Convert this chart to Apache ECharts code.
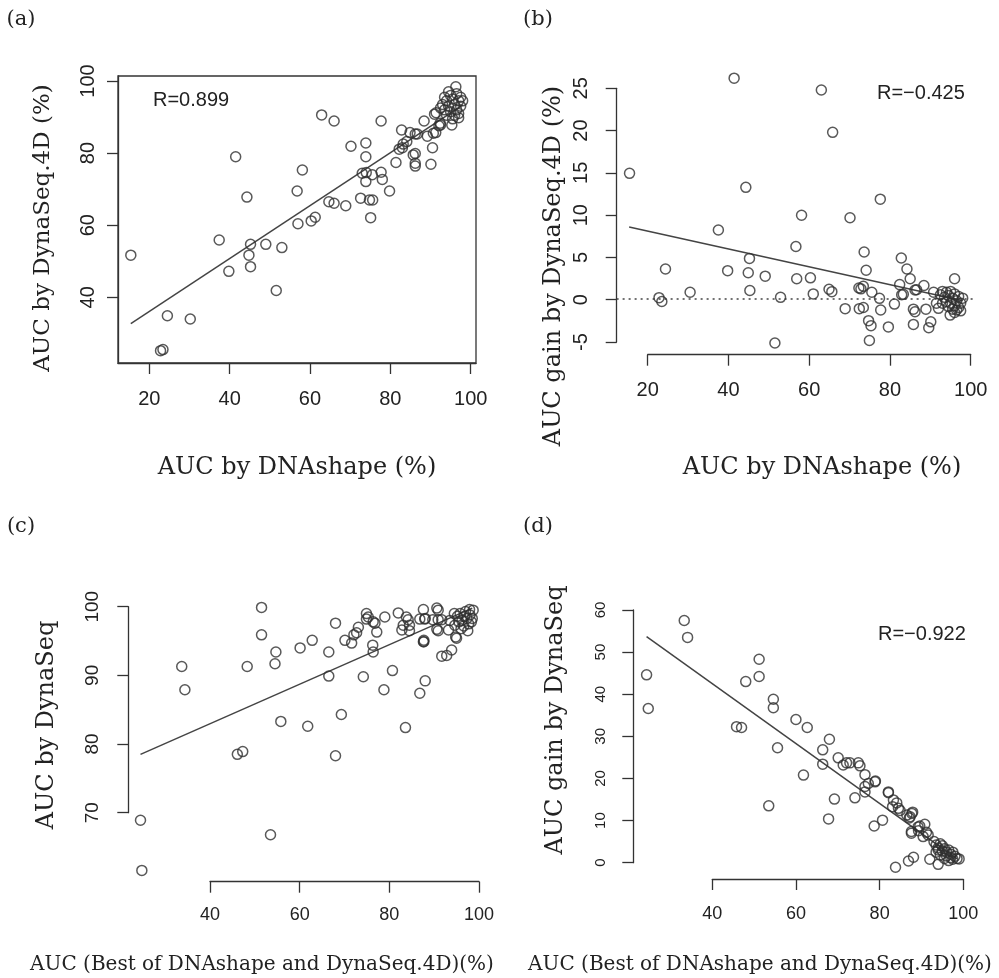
<!DOCTYPE html>
<html><head><meta charset="utf-8">
<script src="https://cdn.jsdelivr.net/npm/echarts@6/dist/echarts.min.js"></script>
<style>html,body{margin:0;padding:0;background:#fff}#c{width:999px;height:978px}</style>
</head><body><div id="c"></div>
<script>
// ---------- Panel (a): AUC by DNAshape vs AUC by DynaSeq.4D ----------
const aDNAshape = [15.4,22.8,23.4,24.5,30.2,37.4,39.8,41.5,44.3,45.2,44.8,45.2,49.0,53.0,51.6,56.8,58.1,57.0,60.3,61.3,62.9,66.0,64.7,66.0,68.9,70.2,72.6,73.9,73.9,73.0,74.0,75.5,73.9,74.8,75.6,75.1,77.7,77.7,78.0,79.8,81.4,82.8,83.0,83.2,84.1,82.2,84.9,86.2,86.7,86.2,85.7,86.2,86.2,88.4,89.2,90.1,90.5,91.0,91.3,92.1,92.5,90.7,91.4,92.4,95.3,96.3,
  93.0,93.5,94.0,94.5,95.0,95.5,96.0,96.5,97.0,97.5,96.0,97.0,94.0,95.0,96.5,97.5,98.0,93.5,92.5,95.5,97.0,94.5];
const aDynaSeq4D = [51.7,25.2,25.5,34.9,34.0,55.9,47.2,79.0,67.8,54.7,51.7,48.5,54.7,53.8,41.9,69.5,75.3,60.4,61.2,62.2,90.6,88.9,66.5,66.1,65.4,81.9,67.5,82.8,79.0,74.4,74.6,74.0,72.1,67.0,67.0,62.1,88.9,74.7,72.7,69.5,77.4,86.4,81.5,82.5,83.2,81.1,85.7,85.3,85.3,79.9,79.5,77.2,76.4,88.9,84.7,76.9,81.5,90.8,85.7,87.6,87.8,85.5,91.2,88.3,87.8,98.4,
  93.5,92.0,94.5,93.0,91.5,95.0,93.5,92.0,94.5,93.0,90.5,91.0,90.5,96.0,96.5,95.5,94.5,95.5,92.5,89.5,89.8,97.0];
const aFitX = [15.4, 98.0];
const aFitY = [32.7, 93.3];
const aXTicks = [20, 40, 60, 80, 100];
const aYTicks = [40, 60, 80, 100];

// ---------- Panel (b): AUC by DNAshape vs AUC gain by DynaSeq.4D ----------
const bDNAshape = [15.5,22.8,23.5,24.4,30.5,37.5,39.8,41.4,44.3,45.2,44.9,45.3,49.1,51.5,52.9,56.7,56.9,58.1,60.3,61.0,63.0,64.9,65.6,65.8,68.9,70.1,72.4,72.8,73.4,73.6,74.1,73.4,74.7,75.3,74.9,75.5,77.4,77.6,77.7,79.6,81.1,82.4,82.8,82.9,84.2,85.0,85.8,86.2,85.8,86.6,88.4,88.9,89.6,90.1,90.8,92.0,94.9,96.0,83.3,86.2,72.3,91.5,
  92.5,93.0,93.5,94.0,94.0,94.5,95.0,95.0,95.5,96.0,96.0,96.5,97.0,97.0,97.5,96.5,95.5,94.5,98.0,97.5,96.0,93.0];
const bGain4D = [14.85,0.16,-0.3,3.55,0.8,8.15,3.35,26.1,13.2,4.8,3.1,1.0,2.7,-5.2,0.2,6.2,2.4,9.9,2.5,0.6,24.7,1.15,0.87,19.7,-1.14,9.6,-1.14,1.2,1.5,5.55,3.4,-1.0,-2.56,-3.15,-4.9,0.8,0.08,11.8,-1.3,-3.3,-0.6,1.7,4.85,0.5,3.55,2.4,-1.2,-1.5,-3.0,1.1,1.6,-1.2,-3.4,-2.7,0.8,-1.1,-1.9,2.4,0.55,1.06,1.3,-0.5,
  0.5,0.9,0.2,-0.3,0.8,0.4,-0.5,0.9,0.1,-0.8,0.6,-0.2,-1.0,0.3,-0.5,-1.3,-1.2,-0.9,0.1,-1.4,-1.6,-0.5];
const bFitX = [15.4, 98.0];
const bFitY = [8.5, -0.2];
const bZeroX = [12.3, 101.3];
const bZeroY = [0, 0];

// ---------- Panel (c): Best of DNAshape/DynaSeq.4D vs AUC by DynaSeq ----------
const cBest = [24.5,24.8,33.7,34.4,46.1,47.3,48.3,51.5,51.5,54.7,54.5,53.5,55.8,60.1,62.8,61.8,66.5,66.5,68.0,68.0,69.3,70.1,71.6,72.1,72.7,73.1,74.2,74.9,75.3,74.9,76.3,76.4,76.4,77.2,78.8,79.0,80.7,82.0,82.8,83.8,84.2,84.5,83.6,86.8,87.7,87.7,88.0,87.6,88.0,90.6,91.7,93.9,94.8,90.9,93.2,76.8,83.1,84.5,86.8,87.9,89.7,90.9,91.7,90.6,93.5,94.6,98.7,95.0,92.8,87.6,90.9,
  95.8,96.2,96.6,97.0,97.3,97.7,98.0,98.3,96.0,97.5,95.5,96.8,98.5,97.9,95.2,94.5];
const cDynaSeq = [68.9,61.6,91.3,87.9,78.5,78.9,91.3,99.9,95.9,93.4,91.7,66.8,83.3,94.0,95.1,82.6,93.4,89.9,97.6,78.3,84.3,95.1,94.7,95.9,96.2,97.0,89.8,99.0,98.5,98.2,94.4,93.4,97.8,96.3,87.9,98.5,90.7,99.1,96.6,98.5,98.1,96.5,82.4,87.4,94.9,95.1,89.2,99.6,98.3,99.8,92.8,93.7,95.6,96.5,96.6,97.6,97.3,97.3,98.2,98.2,98.1,98.1,98.1,96.7,98.0,97.3,99.5,95.4,92.9,94.9,99.5,
  99.0,98.0,97.2,99.3,98.3,97.5,98.8,97.8,96.8,96.5,97.8,98.6,98.3,99.6,98.6,99.0];
const cFitX = [24.5, 98.5];
const cFitY = [78.5, 99.8];

// ---------- Panel (d): Best of DNAshape/DynaSeq.4D vs AUC gain by DynaSeq ----------
const dBest = [24.3,24.7,33.3,34.1,45.8,47.0,48.0,51.2,51.2,53.5,54.6,54.6,55.6,60.0,61.8,62.7,66.4,66.4,67.8,68.0,69.2,70.1,71.3,72.1,72.9,74.9,75.3,74.1,76.5,76.5,77.3,76.5,79.0,78.7,80.7,82.1,83.3,84.1,83.1,84.5,84.9,83.8,86.5,87.3,87.9,86.9,88.1,87.6,87.6,89.2,89.6,90.8,91.2,90.4,92.0,94.0,87.7,87.1,89.3,91.6,78.9,82.1,
  93.0,93.5,94.0,94.5,95.0,95.0,95.5,96.0,96.0,96.5,97.0,97.0,97.5,98.0,98.5,94.5,95.5,96.5,93.5,97.5,99.0,94.0];
const dGainDynaSeq = [44.6,36.6,57.5,53.5,32.3,32.1,43.0,48.3,44.2,13.5,38.8,36.8,27.3,34.0,20.8,32.1,26.8,23.4,10.4,29.3,15.1,24.9,23.2,23.7,23.7,23.7,23.0,15.4,20.9,18.1,18.8,16.8,19.4,8.7,10.1,16.8,14.9,14.2,13.3,12.9,12.4,-1.1,11.3,10.9,12.0,0.4,1.3,7.4,7.0,8.5,8.7,9.1,7.2,6.2,0.8,-0.4,11.7,10.6,7.6,6.6,19.2,16.6,
  5.0,4.2,3.5,4.5,2.8,4.0,3.3,2.5,1.6,3.0,2.0,1.2,2.5,1.5,1.0,1.8,1.0,0.5,2.5,0.8,0.9,3.0];
const dFitX = [24.3, 98.5];
const dFitY = [53.7, 0.9];

// ---------- helpers ----------
const zip = (xs, ys) => xs.map((x, i) => [x, ys[i]]);
const INK = '#333';
const SANS = 'Liberation Sans, Arial, sans-serif';
const SERIF = 'DejaVu Serif, serif';

function scatter(gi, xs, ys) {
  return {
    type: 'scatter', xAxisIndex: gi, yAxisIndex: gi, data: zip(xs, ys),
    symbol: 'circle', symbolSize: 10, clip: false, silent: true,
    itemStyle: { color: 'rgba(0,0,0,0)', borderColor: '#303030', borderWidth: 1.5 },
    emphasis: { disabled: true }, z: 3
  };
}
function fit(gi, xs, ys, dotted) {
  return {
    type: 'line', xAxisIndex: gi, yAxisIndex: gi, data: zip(xs, ys),
    symbol: 'none', clip: false, silent: true,
    lineStyle: { color: '#444', width: dotted ? 1.4 : 1.5, type: dotted ? [2, 4] : 'solid' },
    emphasis: { disabled: true }, z: 2
  };
}
function visAxis(gi, min, max, interval, offset, labelSize, margin, rotate) {
  return {
    gridIndex: gi, type: 'value', min: min, max: max, interval: interval, offset: offset,
    axisLine: { show: true, onZero: false, lineStyle: { color: INK, width: 1.3 } },
    axisTick: { show: true, length: 11, lineStyle: { color: INK, width: 1.3 } },
    axisLabel: { color: '#222', fontFamily: SANS, fontSize: labelSize, margin: margin, rotate: rotate || 0, showMinLabel: true, showMaxLabel: true, hideOverlap: false },
    splitLine: { show: false }
  };
}
function hidAxis(gi, min, max) {
  return { gridIndex: gi, type: 'value', min: min, max: max, show: false, splitLine: { show: false } };
}

// grids 0..3: panels with visible axes (tick range for b, c, d); grids 4..6: plotting regions of b, c, d
const grids = [
  { left: 118, top: 76, width: 358, height: 287, show: true, borderColor: INK, borderWidth: 1.3 },
  { left: 647.7, top: 88.3, width: 323, height: 253.7 },
  { left: 210, top: 606.7, width: 269, height: 206 },
  { left: 712.3, top: 610, width: 251, height: 252.7 },
  { left: 616.7, top: 67.6, width: 359.3, height: 286.4 },
  { left: 128.4, top: 596.4, width: 358.2, height: 285 },
  { left: 633.2, top: 607.9, width: 337.2, height: 271.2 }
];

const xAxes = [
  { gridIndex: 0, type: 'value', min: 12.21, max: 101.32,
    axisLine: { show: true, onZero: false, lineStyle: { color: INK, width: 1.3 } },
    axisTick: { show: true, length: 11, lineStyle: { color: INK, width: 1.3 }, customValues: aXTicks },
    axisLabel: { color: '#222', fontFamily: SANS, fontSize: 20, margin: 26, customValues: aXTicks },
    splitLine: { show: false } },
  visAxis(1, 20, 100, 20, 12.7, 20, 26),
  visAxis(2, 40, 100, 20, 69, 18, 24),
  visAxis(3, 40, 100, 20, 16.3, 18, 26),
  hidAxis(4, 12.32, 101.3),
  hidAxis(5, 21.8, 101.7),
  hidAxis(6, 21.1, 101.7)
];
const yAxes = [
  { gridIndex: 0, type: 'value', min: 21.78, max: 101.39,
    axisLine: { show: true, onZero: false, lineStyle: { color: INK, width: 1.3 } },
    axisTick: { show: true, length: 11, lineStyle: { color: INK, width: 1.3 }, customValues: aYTicks },
    axisLabel: { color: '#222', fontFamily: SANS, fontSize: 20, margin: 20, rotate: 90, customValues: aYTicks },
    splitLine: { show: false } },
  visAxis(1, -5, 25, 5, 31, 20, 25, 90),
  visAxis(2, 70, 100, 10, 81.7, 19, 26, 90),
  visAxis(3, 0, 60, 10, 79, 15, 25, 90),
  hidAxis(4, -6.5, 27.35),
  hidAxis(5, 60.0, 101.5),
  hidAxis(6, -3.9, 60.5)
];

function txt(x, y, s, font, size, rot) {
  return { type: 'text', x: x, y: y, rotation: rot || 0, silent: true,
    style: { text: s, font: size + 'px ' + font, fill: '#222', align: 'center', verticalAlign: 'middle' } };
}
function ltxt(x, y, s, size) {
  return { type: 'text', x: x, y: y, silent: true,
    style: { text: s, font: size + 'px ' + SANS, fill: '#222', align: 'left', verticalAlign: 'middle' } };
}
const R90 = Math.PI / 2;
const graphics = [
  txt(21, 20, '(a)', SERIF, 21), txt(538, 20, '(b)', SERIF, 21),
  txt(21, 527, '(c)', SERIF, 21), txt(538, 527, '(d)', SERIF, 21),
  txt(297, 468, 'AUC by DNAshape (%)', SERIF, 24),
  txt(43, 228, 'AUC by DynaSeq.4D (%)', SERIF, 23, R90),
  txt(822, 468, 'AUC by DNAshape (%)', SERIF, 24),
  txt(554, 266, 'AUC gain by DynaSeq.4D (%)', SERIF, 24, R90),
  txt(262, 965, 'AUC (Best of DNAshape and DynaSeq.4D)(%)', SERIF, 20),
  txt(47, 725, 'AUC by DynaSeq', SERIF, 24, R90),
  txt(760, 965, 'AUC (Best of DNAshape and DynaSeq.4D)(%)', SERIF, 20),
  txt(556, 720, 'AUC gain by DynaSeq', SERIF, 24, R90),
  ltxt(153, 100.5, 'R=0.899', 20),
  ltxt(877, 93.5, 'R=\u22120.425', 20),
  ltxt(878, 634.5, 'R=\u22120.922', 20)
];

const chart = echarts.init(document.getElementById('c'), null, { renderer: 'canvas' });
chart.setOption({
  animation: false,
  backgroundColor: '#fff',
  grid: grids,
  xAxis: xAxes,
  yAxis: yAxes,
  series: [
    fit(0, aFitX, aFitY), scatter(0, aDNAshape, aDynaSeq4D),
    fit(4, bZeroX, bZeroY, true), fit(4, bFitX, bFitY), scatter(4, bDNAshape, bGain4D),
    fit(5, cFitX, cFitY), scatter(5, cBest, cDynaSeq),
    fit(6, dFitX, dFitY), scatter(6, dBest, dGainDynaSeq)
  ],
  graphic: graphics
});
</script>
</body></html>
